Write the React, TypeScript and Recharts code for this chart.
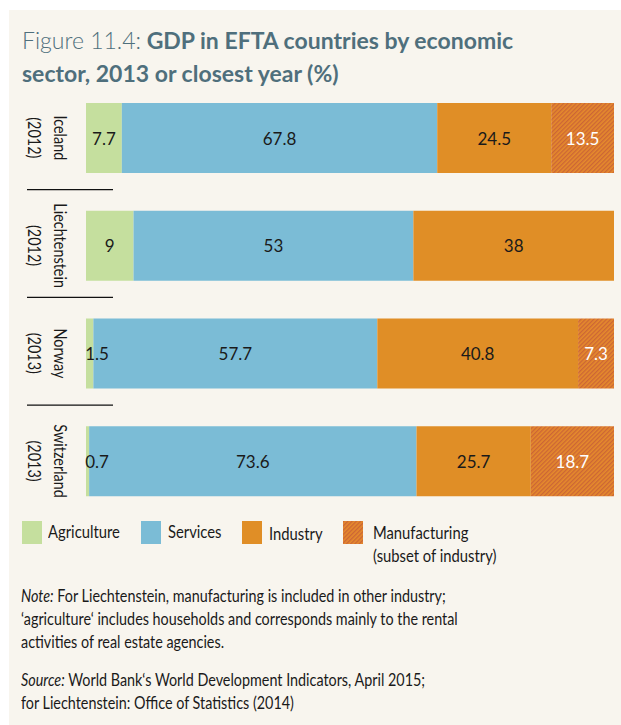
import React from 'react';
import { BarChart, Bar, XAxis, YAxis, LabelList } from 'recharts';

const countries = ['Iceland', 'Liechtenstein', 'Norway', 'Switzerland'];
const years = ['(2012)', '(2012)', '(2013)', '(2013)'];
const agriculture = [7.7, 9, 1.5, 0.7];
const services = [67.8, 53, 57.7, 73.6];
const industry = [24.5, 38, 40.8, 25.7];
const manufacturing = [13.5, 0, 7.3, 18.7];

const data = countries.map((c, i) => ({
  name: c,
  year: years[i],
  agriculture: agriculture[i],
  services: services[i],
  industry: industry[i],
  manufacturing: manufacturing[i],
}));

const FONT = 'Lato, Roboto, "Noto Sans", sans-serif';
const TITLE_COLOR = '#4f6f7c';
const C_AGRI = '#c5df9e';
const C_SERV = '#7bbcd6';
const C_IND = '#e08e26';
const SQ = 0.87;

const YTick = (props: any) => {
  const { y, payload, index } = props;
  const i = countries.indexOf(payload.value);
  return (
    <g>
      {index > 0 && <line x1={27} x2={113} y1={y - 56} y2={y - 56} stroke="#111" strokeWidth={1.2} />}
      <g transform={`translate(61,${y}) rotate(90) scale(0.85,1)`}>
        <text x={0} y={0} textAnchor="middle" dominantBaseline="central" fontSize={17} fill="#1a1a1a" fontFamily={FONT}>
          {payload.value}
        </text>
        <text x={0} y={26} textAnchor="middle" dominantBaseline="central" fontSize={17} fill="#1a1a1a" fontFamily={FONT}>
          {years[i]}
        </text>
      </g>
    </g>
  );
};

const makeLabel = (color: string, minOffset = 0) => (props: any) => {
  const { x, y, width, height, value } = props;
  if (!value) return null;
  const cx = x + Math.max(width / 2, minOffset);
  return (
    <text x={cx} y={y + height / 2} textAnchor="middle" dominantBaseline="central" fontSize={17} fill={color} fontFamily={FONT}>
      {value}
    </text>
  );
};

const legendItems = [
  { label: 'Agriculture', sx: 22, tx: 48, fill: C_AGRI, dy: 0 },
  { label: 'Services', sx: 141, tx: 168, fill: C_SERV, dy: 0 },
  { label: 'Industry', sx: 242, tx: 269, fill: C_IND, dy: 2 },
];

const sq = { transform: `scaleX(${SQ})`, transformOrigin: '0 0', whiteSpace: 'nowrap' as const };

export default function App() {
  return (
    <div style={{ position: 'absolute', left: 0, top: 0, width: 621, height: 725, background: '#fff', fontFamily: FONT, overflow: 'hidden' }}>
      <div style={{ position: 'absolute', left: 9, top: 10, width: 612, height: 715, background: '#f8f5ee' }} />
      <div style={{ position: 'absolute', left: 22, top: 24, width: 595, color: TITLE_COLOR, fontSize: 23, lineHeight: '33px' }}>
        <span style={{ fontWeight: 300 }}>Figure 11.4:</span>
        <span style={{ fontWeight: 700 }}> GDP in EFTA countries by economic</span>
        <br />
        <span style={{ fontWeight: 700 }}>sector, 2013 or closest year (%)</span>
      </div>
      <div style={{ position: 'absolute', left: 0, top: 0 }}>
        <BarChart
          width={621}
          height={515}
          data={data}
          layout="vertical"
          stackOffset="expand"
          margin={{ top: 84, right: 7, bottom: 0, left: 0 }}
        >
          <defs>
            <pattern id="hatch" patternUnits="userSpaceOnUse" width="3" height="3" patternTransform="rotate(-45)">
              <rect width="3" height="3" fill="#e58a2c" />
              <rect width="3" height="1.3" fill="#cc6536" />
            </pattern>
          </defs>
          <XAxis type="number" hide domain={[0, 1]} />
          <YAxis type="category" dataKey="name" width={86} axisLine={false} tickLine={false} tick={<YTick />} interval={0} />
          <Bar dataKey="agriculture" stackId="a" fill={C_AGRI} barSize={70} isAnimationActive={false}>
            <LabelList dataKey="agriculture" content={makeLabel('#1a1a1a', 11)} />
          </Bar>
          <Bar dataKey="services" stackId="a" fill={C_SERV} barSize={70} isAnimationActive={false}>
            <LabelList dataKey="services" content={makeLabel('#1a1a1a')} />
          </Bar>
          <Bar dataKey="industry" stackId="a" fill={C_IND} barSize={70} isAnimationActive={false}>
            <LabelList dataKey="industry" content={makeLabel('#1a1a1a')} />
          </Bar>
          <Bar dataKey="manufacturing" stackId="a" fill="url(#hatch)" barSize={70} isAnimationActive={false}>
            <LabelList dataKey="manufacturing" content={makeLabel('#ffffff')} />
          </Bar>
        </BarChart>
      </div>
      {legendItems.map((it) => (
        <React.Fragment key={it.label}>
          <div style={{ position: 'absolute', left: it.sx, top: 521, width: 20, height: 23, background: it.fill }} />
          <div style={{ position: 'absolute', left: it.tx, top: 521 + it.dy, fontSize: 17, lineHeight: '22px', color: '#1a1a1a', ...sq }}>{it.label}</div>
        </React.Fragment>
      ))}
      <svg style={{ position: 'absolute', left: 343, top: 521 }} width={20} height={23}>
        <defs>
          <pattern id="hatch2" patternUnits="userSpaceOnUse" width="3" height="3" patternTransform="rotate(-45)">
            <rect width="3" height="3" fill="#e58a2c" />
            <rect width="3" height="1.3" fill="#cc6536" />
          </pattern>
        </defs>
        <rect width={20} height={23} fill="url(#hatch2)" />
      </svg>
      <div style={{ position: 'absolute', left: 373, top: 521, fontSize: 17, lineHeight: '23px', color: '#1a1a1a', ...sq }}>
        Manufacturing<br />(subset of industry)
      </div>
      <div style={{ position: 'absolute', left: 21, top: 585, fontSize: 16.5, lineHeight: '23px', color: '#1a1a1a', ...sq }}>
        <i>Note:</i> For Liechtenstein, manufacturing is included in other industry;<br />
        ‘agriculture‘ includes households and corresponds mainly to the rental<br />
        activities of real estate agencies.
      </div>
      <div style={{ position: 'absolute', left: 21, top: 669, fontSize: 16.5, lineHeight: '23px', color: '#1a1a1a', ...sq }}>
        <i>Source:</i> World Bank‘s World Development Indicators, April 2015;<br />
        for Liechtenstein: Office of Statistics (2014)
      </div>
    </div>
  );
}
